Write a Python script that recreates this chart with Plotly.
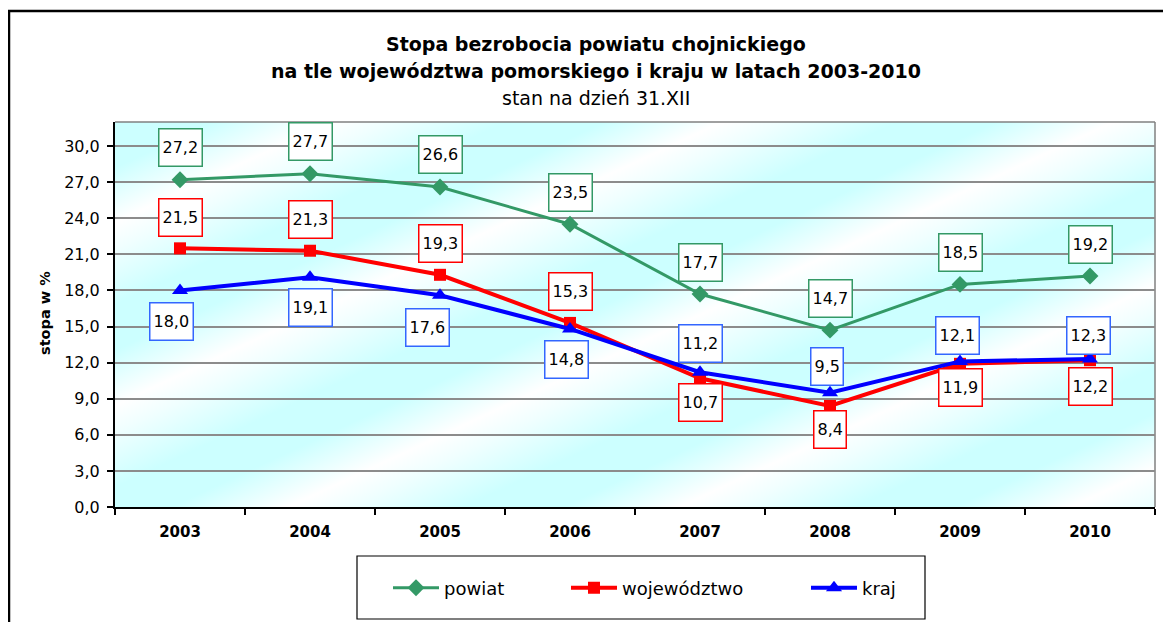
import base64
import plotly.graph_objects as go

# ---------------- data ----------------
years = ["2003", "2004", "2005", "2006", "2007", "2008", "2009", "2010"]
powiat = [27.2, 27.7, 26.6, 23.5, 17.7, 14.7, 18.5, 19.2]
wojewodztwo = [21.5, 21.3, 19.3, 15.3, 10.7, 8.4, 11.9, 12.2]
kraj = [18.0, 19.1, 17.6, 14.8, 11.2, 9.5, 12.1, 12.3]
series_names = ["powiat", "województwo", "kraj"]
y_ticks = [0, 3, 6, 9, 12, 15, 18, 21, 24, 27, 30]

# ---------------- style ----------------
FONT = "DejaVu Sans"
GREEN = "#339966"
RED = "#FF0000"
BLUE = "#0000FF"
BLUE_BOX = "#3366FF"

# label offsets in px (style only; positive = down)
pow_dy = [-32] * 8
woj_dy = [-31, -31, -31, -31, 24, 24, 24, 26]
kraj_dy = [31, 30, 32, 31, -29, -26, -26, -24]
kraj_dx = [-9, 0, -13, -4, 0, -3, -3, -2]

OFF = 8                      # page body margin
REF_W, REF_H = 1171, 622
L, R, T, B = 115, 1155, 122, 507  # plot area in reference px
PW, PH = R - L, B - T
W, H = REF_W - OFF, REF_H - OFF


def px_x(px):
    return (px - L) / PW


def px_y(py):
    return (B - py) / PH


fig = go.Figure()

traces = [
    (powiat, series_names[0], GREEN, 3, "diamond", 13, "legend"),
    (wojewodztwo, series_names[1], RED, 4, "square", 12, "legend2"),
    (kraj, series_names[2], BLUE, 4, "triangle-up", 14, "legend3"),
]
for vals, name, col, lw, sym, ms, lg in traces:
    fig.add_trace(go.Scatter(
        x=years, y=vals, name=name, mode="lines+markers",
        line=dict(color=col, width=lw),
        marker=dict(symbol=sym, size=ms, color=col, line=dict(width=0)),
        legend=lg,
    ))

annotations = []


def add_labels(vals, dys, border, dxs=None):
    for i, v in enumerate(vals):
        annotations.append(dict(
            x=i, y=v, xref="x", yref="y", showarrow=False,
            text=f"{v:.1f}".replace(".", ","),
            font=dict(family=FONT, size=16, color="black"),
            bgcolor="white", bordercolor=border, borderwidth=1.5,
            borderpad=3, height=30, yshift=-dys[i],
            xshift=(dxs[i] if dxs else 0),
        ))


add_labels(powiat, pow_dy, GREEN)
add_labels(wojewodztwo, woj_dy, RED)
add_labels(kraj, kraj_dy, BLUE_BOX, kraj_dx)

# title lines
title_lines = [
    ("<b>Stopa bezrobocia powiatu chojnickiego</b>", 44),
    ("<b>na tle województwa pomorskiego i kraju w latach 2003-2010</b>", 71),
    ("stan na dzień 31.XII", 98),
]
for txt, py in title_lines:
    annotations.append(dict(
        x=px_x(596), y=px_y(py), xref="paper", yref="paper",
        xanchor="center", yanchor="middle", showarrow=False, text=txt,
        font=dict(family=FONT, size=19, color="black"),
    ))

# y axis title
annotations.append(dict(
    x=px_x(45), y=px_y(313), xref="paper", yref="paper", showarrow=False,
    text="<b>stopa w %</b>", textangle=-90, xanchor="center", yanchor="middle",
    font=dict(family=FONT, size=14.5, color="black"),
))

shapes = [
    # outer frame
    dict(type="rect", xref="paper", yref="paper",
         x0=px_x(9), y0=px_y(640), x1=px_x(1190), y1=px_y(11),
         line=dict(color="black", width=2.5), fillcolor="rgba(0,0,0,0)", layer="above"),
    # plot area top/right gray border
    dict(type="line", xref="paper", yref="paper", x0=0, x1=1, y0=1, y1=1,
         line=dict(color="#808080", width=1.5), layer="below"),
    dict(type="line", xref="paper", yref="paper", x0=1, x1=1, y0=0, y1=1,
         line=dict(color="#808080", width=1.5), layer="below"),
    # legend box
    dict(type="rect", xref="paper", yref="paper",
         x0=px_x(357), x1=px_x(925), y0=px_y(619), y1=px_y(556),
         line=dict(color="black", width=1.2), fillcolor="white", layer="above"),
]

# background gradient (diagonal light cyan / white streaks)
svg = f'''<svg xmlns="http://www.w3.org/2000/svg" width="{PW}" height="{PH}" viewBox="0 0 {PW} {PH}" preserveAspectRatio="none">
<defs><linearGradient id="g" gradientUnits="userSpaceOnUse" x1="0" y1="0" x2="70" y2="150" spreadMethod="repeat">
<stop offset="0" stop-color="#CCFFFF"/><stop offset="0.25" stop-color="#CCFFFF"/>
<stop offset="0.55" stop-color="#FFFFFF"/><stop offset="0.7" stop-color="#F0FFFF"/>
<stop offset="1" stop-color="#CCFFFF"/></linearGradient></defs>
<rect x="0" y="0" width="{PW}" height="{PH}" fill="url(#g)"/></svg>'''
src = "data:image/svg+xml;base64," + base64.b64encode(svg.encode()).decode()

legend_common = dict(
    orientation="h", yanchor="middle", xanchor="left", bgcolor="rgba(0,0,0,0)",
    borderwidth=0, font=dict(family=FONT, size=18, color="black"), itemwidth=46,
    y=px_y(588),
)

fig.update_layout(
    width=W, height=H,
    margin=dict(l=L - OFF, r=REF_W - R, t=T - OFF, b=REF_H - B, autoexpand=False),
    paper_bgcolor="white", plot_bgcolor="rgba(0,0,0,0)",
    separators=", ",
    font=dict(family=FONT, color="black"),
    showlegend=True,
    legend=dict(legend_common, x=px_x(393 - 5)),
    legend2=dict(legend_common, x=px_x(571 - 5)),
    legend3=dict(legend_common, x=px_x(811 - 5)),
    annotations=annotations,
    shapes=shapes,
    images=[dict(source=src, xref="paper", yref="paper", x=0, y=1, sizex=1, sizey=1,
                 xanchor="left", yanchor="top", sizing="stretch", layer="below")],
    xaxis=dict(
        type="category", range=[-0.5, 7.5], showgrid=False, zeroline=False,
        showline=True, linecolor="black", linewidth=2,
        ticks="outside", tickson="boundaries", ticklen=6, tickcolor="black", tickwidth=1.5,
        tickfont=dict(family=FONT, size=15, color="black", weight="bold"),
        automargin=False, fixedrange=True, ticklabelstandoff=10,
    ),
    yaxis=dict(
        range=[0, 32], tickvals=y_ticks, tickformat=".1f", showgrid=True,
        gridcolor="#8C8C8C", gridwidth=2, zeroline=False,
        showline=True, linecolor="black", linewidth=2,
        ticks="outside", ticklen=6, tickcolor="black", tickwidth=1.5,
        tickfont=dict(family=FONT, size=16, color="black"),
        automargin=False, fixedrange=True, ticklabelstandoff=4,
    ),
)

fig.write_html("out.html")
